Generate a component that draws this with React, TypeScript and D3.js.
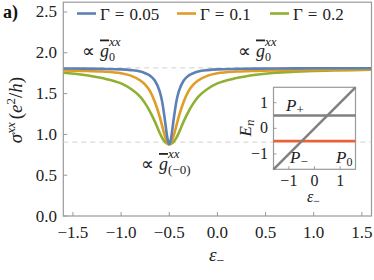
import React from "react";
import * as d3 from "d3";

// ---- data ----
const epsValues = [-1.6, -1.4, -1.2, -1.0, -0.9, -0.8, -0.75, -0.7, -0.65, -0.6, -0.575, -0.55, -0.525, -0.5125, -0.5, -0.4875, -0.475, -0.45, -0.425, -0.4, -0.35, -0.3, -0.25, -0.2, -0.1, 0, 0.2, 0.4, 0.6, 0.8, 1.0, 1.2, 1.4, 1.6];
const sigmaG005 = [1.808, 1.806, 1.803, 1.797, 1.788, 1.77, 1.75, 1.72, 1.66, 1.53, 1.41, 1.22, 1.0, 0.913, 0.88, 0.913, 1.0, 1.22, 1.41, 1.53, 1.66, 1.72, 1.75, 1.77, 1.788, 1.797, 1.803, 1.806, 1.808, 1.809, 1.81, 1.81, 1.81, 1.81];
const sigmaG01 = [1.783, 1.778, 1.77, 1.75, 1.72, 1.66, 1.61, 1.53, 1.40, 1.22, 1.11, 1.0, 0.913, 0.888, 0.88, 0.888, 0.913, 1.0, 1.11, 1.22, 1.40, 1.53, 1.61, 1.66, 1.72, 1.75, 1.77, 1.778, 1.783, 1.787, 1.79, 1.792, 1.794, 1.795];
const sigmaG02 = [1.755, 1.73, 1.69, 1.625, 1.56, 1.46, 1.38, 1.28, 1.16, 1.02, 0.96, 0.915, 0.89, 0.883, 0.88, 0.883, 0.89, 0.915, 0.96, 1.02, 1.16, 1.28, 1.38, 1.46, 1.56, 1.625, 1.69, 1.73, 1.755, 1.768, 1.777, 1.783, 1.788, 1.792];
const gammaValues = ["0.05", "0.1", "0.2"];
const seriesColors = ["#5E81B5", "#E19C24", "#8FB032"];
const xTicks = [-1.5, -1.0, -0.5, 0.0, 0.5, 1.0, 1.5];
const yTicks = [0.0, 0.5, 1.0, 1.5, 2.0, 2.5];
const refLevels = [1.815, 0.905];

// inset data
const insetTicks = [-1, 0, 1];
const levelPlus = 0.5;
const levelMinus = -0.5;
const diagEps = [-1.6, 1.6];

const SERIF = "Liberation Serif";
const fmtMinus = (s: string) => s.replace("-", "\u2212");

function T(props: any) {
  const { children, ...rest } = props;
  return (
    <text fontFamily={SERIF} fill="#222" {...rest} style={{ fontFamily: `"${SERIF}"` }}>
      {children}
    </text>
  );
}

export default function App() {
  const W = 374, H = 280;
  const x = d3.scaleLinear().domain([-1.6, 1.6]).range([63.3, 371.5]);
  const y = d3.scaleLinear().domain([0, 2.62]).range([216, 2.2]);
  const series = [sigmaG005, sigmaG01, sigmaG02];
  const line = d3
    .line<number>()
    .x((_, i) => x(epsValues[i]))
    .y((v) => y(v))
    .curve(d3.curveMonotoneX);

  const ix = d3.scaleLinear().domain([-1.6, 1.6]).range([273.5, 355.5]);
  const iy = d3.scaleLinear().domain([-1.6, 1.6]).range([169.3, 87.3]);

  const axisColor = "#9a9a9a";
  const [x0, x1] = x.range();
  const [y0, y1] = y.range();

  const legendX = [77, 177, 270];

  return (
    <svg width={W} height={H} style={{ position: "absolute", left: 0, top: 0 }} fontFamily={SERIF}>
      <defs>
        <clipPath id="plotclip">
          <rect x={x0} y={y1} width={x1 - x0} height={y0 - y1} />
        </clipPath>
      </defs>
      <rect x={0} y={0} width={W} height={H} fill="#fff" />
      {/* frame */}
      <rect x={x0} y={y1} width={x1 - x0} height={y0 - y1} fill="none" stroke={axisColor} strokeWidth={1.2} />
      {/* reference dashed lines */}
      {refLevels.map((v, i) => (
        <line key={i} x1={x0} x2={x1} y1={y(v)} y2={y(v)} stroke="#d0d0d0" strokeWidth={1} strokeDasharray="5,4" />
      ))}
      {/* ticks */}
      {xTicks.map((t) => (
        <g key={"xt" + t}>
          <line x1={x(t)} x2={x(t)} y1={y0} y2={y0 - 4} stroke={axisColor} strokeWidth={1} />
          <T x={x(t)} y={238} textAnchor="middle" fontSize={17}>
            {fmtMinus(t.toFixed(1))}
          </T>
        </g>
      ))}
      {yTicks.map((t) => (
        <g key={"yt" + t}>
          <line x1={x0} x2={x0 + 4} y1={y(t)} y2={y(t)} stroke={axisColor} strokeWidth={1} />
          <T x={57} y={y(t) + 5.5} textAnchor="end" fontSize={17}>
            {t.toFixed(1)}
          </T>
        </g>
      ))}
      {/* curves */}
      <g clipPath="url(#plotclip)">
        {series
          .map((s, i) => (
            <path key={i} d={line(s) || ""} fill="none" stroke={seriesColors[i]} strokeWidth={2.6} />
          ))
          .reverse()}
      </g>
      {/* legend */}
      {gammaValues.map((g, i) => (
        <g key={g}>
          <line x1={legendX[i]} x2={legendX[i] + 19} y1={13.5} y2={13.5} stroke={seriesColors[i]} strokeWidth={2.6} />
          <T x={legendX[i] + 23} y={19.5} fontSize={17}>
            <tspan>Γ</tspan>
            <tspan dx={5}>=</tspan>
            <tspan dx={5}>{g}</tspan>
          </T>
        </g>
      ))}
      {/* annotations */}
      {[82, 238].map((ax, i) => (
        <g key={"ann" + i}>
          <T x={ax} y={56.5} fontSize={18}>
            <tspan>∝</tspan>
            <tspan dx={5} fontStyle="italic" textDecoration="overline">g</tspan>
            <tspan fontSize={12} dy={4}>0</tspan>
          </T>
          <T x={ax + 27} y={46} fontSize={13} fontStyle="italic">xx</T>
        </g>
      ))}
      <g>
        <T x={141} y={170} fontSize={18}>
          <tspan>∝</tspan>
          <tspan dx={5} fontStyle="italic" textDecoration="overline">g</tspan>
          <tspan fontSize={13} dy={4}>(−0)</tspan>
        </T>
        <T x={168} y={158} fontSize={13} fontStyle="italic">xx</T>
      </g>
      {/* axis labels */}
      <T transform="translate(22,110) rotate(-90)" textAnchor="middle" fontSize={19}>
        <tspan fontStyle="italic">σ</tspan>
        <tspan fontStyle="italic" fontSize={13} dy={-7}>xx</tspan>
        <tspan dy={7} dx={3}>(</tspan>
        <tspan fontStyle="italic">e</tspan>
        <tspan fontSize={13} dy={-7}>2</tspan>
        <tspan dy={7}>/</tspan>
        <tspan fontStyle="italic">h</tspan>
        <tspan>)</tspan>
      </T>
      <T x={209} y={261} fontSize={19}>
        <tspan fontStyle="italic">ε</tspan>
        <tspan fontSize={14} dy={4}>−</tspan>
      </T>
      {/* panel label */}
      <T x={3} y={18} fontSize={18} fontWeight="bold" fill="#111">
        a)
      </T>

      {/* inset */}
      <g>
        <rect x={ix(-1.6)} y={iy(1.6)} width={ix(1.6) - ix(-1.6)} height={iy(-1.6) - iy(1.6)} fill="#fff" stroke={axisColor} strokeWidth={1.2} />
        <line x1={ix(-1.6)} x2={ix(1.6)} y1={iy(levelPlus)} y2={iy(levelPlus)} stroke="#808080" strokeWidth={2.6} />
        <line x1={ix(-1.6)} x2={ix(1.6)} y1={iy(levelMinus)} y2={iy(levelMinus)} stroke="#EB6235" strokeWidth={2.6} />
        <line x1={ix(diagEps[0])} x2={ix(diagEps[1])} y1={iy(diagEps[0])} y2={iy(diagEps[1])} stroke="#808080" strokeWidth={2.4} />
        {insetTicks.map((t) => (
          <g key={"it" + t}>
            <line x1={ix(t)} x2={ix(t)} y1={iy(-1.6)} y2={iy(-1.6) - 3} stroke={axisColor} />
            <line x1={ix(-1.6)} x2={ix(-1.6) + 3} y1={iy(t)} y2={iy(t)} stroke={axisColor} />
            <T x={ix(t)} y={185.5} textAnchor="middle" fontSize={16}>
              {fmtMinus(String(t))}
            </T>
            <T x={268} y={iy(t) + 5} textAnchor="end" fontSize={16}>
              {fmtMinus(String(t))}
            </T>
          </g>
        ))}
        <T x={286} y={110.5} fontSize={17}>
          <tspan fontStyle="italic">P</tspan>
          <tspan fontSize={13} dy={3}>+</tspan>
        </T>
        <T x={290} y={163} fontSize={17}>
          <tspan fontStyle="italic">P</tspan>
          <tspan fontSize={13} dy={3}>−</tspan>
        </T>
        <T x={336} y={163} fontSize={17}>
          <tspan fontStyle="italic">P</tspan>
          <tspan fontSize={12} dy={3}>0</tspan>
        </T>
        <T x={307} y={202} fontSize={16}>
          <tspan fontStyle="italic">ε</tspan>
          <tspan fontSize={12} dy={3}>−</tspan>
        </T>
        <T transform="translate(251,128) rotate(-90)" textAnchor="middle" fontSize={17}>
          <tspan fontStyle="italic">E</tspan>
          <tspan fontStyle="italic" fontSize={13} dy={3}>n</tspan>
        </T>
      </g>
    </svg>
  );
}
